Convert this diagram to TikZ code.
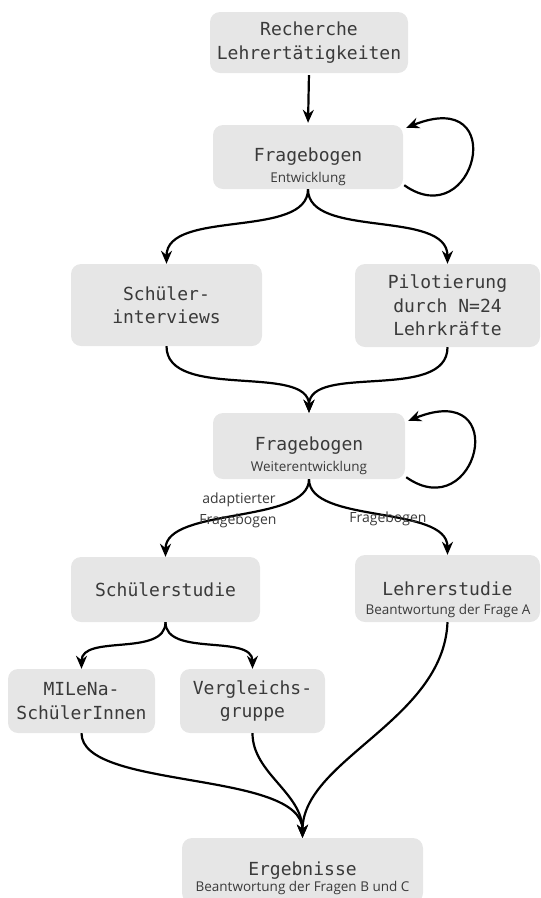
\documentclass[tikz,border=0pt]{standalone}
\usepackage{fontspec}
\setmainfont{Open Sans}
\setmonofont{DejaVu Sans Mono}
\usetikzlibrary{arrows.meta,calc}
\definecolor{boxgray}{HTML}{E6E6E6}
\definecolor{txt}{HTML}{3A3A3A}
\begin{document}
\begin{tikzpicture}[x=1pt,y=-1pt,
  box/.style={fill=boxgray, rounded corners=10pt, inner sep=0pt, align=center,
    font=\ttfamily\fontsize{18}{23.5}\selectfont, text=txt},
  sub/.style={font=\fontsize{13.5}{15}\selectfont, text=txt, inner sep=0pt},
  lab/.style={font=\fontsize{14}{16}\selectfont, text=txt, inner sep=0pt},
  conn/.style={line width=2.2pt, -{Stealth[length=13pt,width=11pt]}}]
\useasboundingbox (0,0) rectangle (541,898);

\node[box, minimum width=198pt, minimum height=61pt] (rech) at (309,42.5) {Recherche\\Lehrertätigkeiten};
\node[box, minimum width=190pt, minimum height=64pt] (f1) at (308,157) {Fragebogen};
\node[sub] (f1s) at (308,179) {Entwicklung};
\node[box, minimum width=191pt, minimum height=82pt] (si) at (166.5,305) {Schüler-\\interviews};
\node[box, minimum width=185pt, minimum height=83pt] (pil) at (447.5,305.5) {Pilotierung\\durch N=24\\Lehrkräfte};
\node[box, minimum width=192pt, minimum height=66pt] (f2) at (309,446) {Fragebogen};
\node[sub] (f2s) at (309,468) {Weiterentwicklung};
\node[box, minimum width=189pt, minimum height=65pt] (ss) at (165.5,589.5) {Schülerstudie};
\node[box, minimum width=185pt, minimum height=67pt] (ls) at (447.5,588.5) {Lehrerstudie};
\node[sub] (lss) at (448,611) {Beantwortung der Frage A};
\node[box, minimum width=147pt, minimum height=64pt] (mil) at (81.5,701) {MILeNa-\\SchülerInnen};
\node[box, minimum width=145pt, minimum height=64pt] (vg) at (252.5,701) {Vergleichs-\\gruppe};
\node[box, minimum width=241pt, minimum height=65pt] (erg) at (302.5,870.5) {Ergebnisse};
\node[sub] (ergs) at (302.5,888) {Beantwortung der Fragen B und C};

\draw[conn, shorten <=2pt, shorten >=2pt] (rech.south) -- (f1.north);
\draw[conn] ($(f1.south east)+(1,-4)$) .. controls +(71,50) and +(105,-42) .. ($(f1.north east)+(3,3)$);
\draw[conn] (f1.south) .. controls +(0,50) and +(0,-55) .. (si.north);
\draw[conn] (f1.south) .. controls +(0,50) and +(0,-55) .. (pil.north);
\draw[conn] (si.south) .. controls +(0,55) and +(0,-50) .. (f2.north);
\draw[conn] (pil.south) .. controls +(0,55) and +(0,-50) .. (f2.north);
\draw[conn] ($(f2.south east)+(1,-2)$) .. controls +(71,50) and +(105,-42) .. ($(f2.north east)+(3,8)$);
\draw[conn] (f2.south) .. controls +(0,45) and +(0,-50) .. (ss.north);
\draw[conn] (f2.south) .. controls +(0,45) and +(0,-50) .. (ls.north);
\node[lab] (l1) at (239,500) {adaptierter};
\node[lab] (l2) at (238,521) {Fragebogen};
\node[lab] (l3) at (388,519) {Fragebogen};
\draw[conn] (ss.south) .. controls +(0,35) and +(0,-35) .. (mil.north);
\draw[conn] (ss.south) .. controls +(0,35) and +(0,-35) .. (vg.north);
\draw[conn] (mil.south) .. controls +(0,57) and +(0,-68) .. (erg.north);
\draw[conn] (vg.south) .. controls +(0,40) and +(0,-45) .. (erg.north);
\draw[conn] (ls.south) .. controls +(-4,98) and +(0,-78) .. (erg.north);
\end{tikzpicture}
\end{document}
